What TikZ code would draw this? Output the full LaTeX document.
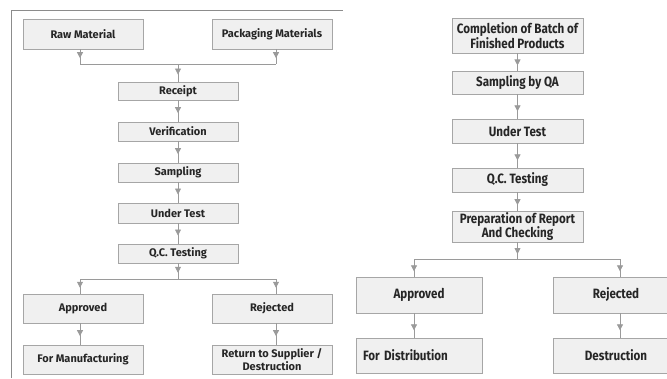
\documentclass[tikz,border=0pt]{standalone}
\usepackage{fontspec}
\setmainfont{Fira Sans}
\newfontfamily\condfont[FakeStretch=0.86]{Fira Sans}
\usetikzlibrary{arrows.meta,decorations.markings}
\definecolor{boxline}{HTML}{A6A6A6}
\definecolor{boxfill}{HTML}{F0F0F0}
\definecolor{conncol}{HTML}{9A9A9A}
\definecolor{framecol}{HTML}{8C8C8C}
\tikzset{
  lbox/.style={draw=boxline, fill=boxfill, line width=0.8pt, minimum width=120pt, inner sep=1pt, align=center, font=\fontsize{11}{12.5}\selectfont\bfseries, text=black!85},
  rbox/.style={draw=boxline, fill=boxfill, line width=0.8pt, inner sep=1pt, align=center, font=\condfont\fontsize{13.5}{13}\selectfont\bfseries, text=black!85},
  conn/.style={draw=conncol, line width=0.8pt},
  arrL/.style={postaction={decorate}, decoration={markings, mark=at position 0.6 with {\arrow[conncol]{Triangle[width=6pt,length=6pt]}}}},
  arrR/.style={postaction={decorate}, decoration={markings, mark=at position 0.7 with {\arrow[conncol]{Triangle[width=6pt,length=6pt]}}}},
}
\begin{document}
\begin{tikzpicture}[x=1pt,y=-1pt]
\useasboundingbox (0,0) rectangle (667,378);
\begin{scope}
\clip (0,0) rectangle (667,378);
% left panel frame
\draw[framecol, line width=0.8pt] (11,378) -- (11,10) -- (343,10);

% left panel nodes
\node[lbox, minimum height=30pt] (raw) at (83,34) {Raw Material};
\node[lbox, minimum height=30pt] (pack) at (272,34) {Packaging Materials};
\node[lbox, minimum height=18pt] (receipt) at (178,91) {Receipt};
\node[lbox, minimum height=19pt] (verif) at (178,131.5) {Verification};
\node[lbox, minimum height=19pt] (samp) at (178,172.5) {Sampling};
\node[lbox, minimum height=20pt] (under) at (178,213) {Under Test};
\node[lbox, minimum height=19pt] (qc) at (178,253.5) {Q.C. Testing};
\node[lbox, minimum height=29pt] (appr) at (83,308.5) {Approved};
\node[lbox, minimum height=29pt] (rej) at (272,308.5) {Rejected};
\node[lbox, minimum height=29pt] (manuf) at (83,359.5) {For Manufacturing};
\node[lbox, minimum height=29pt] (ret) at (272,359.5) {Return to Supplier /\\Destruction};

\coordinate (jl) at (80,64);
\coordinate (jr) at (276,64);
\coordinate (jc) at (178,64);
\coordinate (bl) at (80,279);
\coordinate (br) at (276,279);
\coordinate (bc) at (178,279);

\draw[conn,arrL] (raw.south -| jl) -- (jl);
\draw[conn,arrL] (pack.south -| jr) -- (jr);
\draw[conn] (jl) -- (jr);
\draw[conn,arrL] (jc) -- (receipt.north);
\draw[conn,arrL] (receipt) -- (verif);
\draw[conn,arrL] (verif) -- (samp);
\draw[conn,arrL] (samp) -- (under);
\draw[conn,arrL] (under) -- (qc);
\draw[conn,arrL] (qc.south) -- (bc);
\draw[conn] (bl) -- (br);
\draw[conn,arrL] (bl) -- (appr.north -| bl);
\draw[conn,arrL] (br) -- (rej.north -| br);
\draw[conn,arrL] (appr.south -| bl) -- (manuf.north -| bl);
\draw[conn,arrL] (rej.south -| br) -- (ret.north -| br);

% right panel nodes
\node[rbox, minimum width=131pt, minimum height=35pt] (comp) at (517.5,35.5) {Completion of Batch of\\Finished Products};
\node[rbox, minimum width=131pt, minimum height=23pt] (sqa) at (517.5,82.5) {Sampling by QA};
\node[rbox, minimum width=131pt, minimum height=24pt] (rut) at (517.5,131) {Under Test};
\node[rbox, minimum width=131pt, minimum height=24pt] (rqc) at (517.5,180) {Q.C. Testing};
\node[rbox, minimum width=131pt, minimum height=31pt] (prep) at (517.5,226.5) {Preparation of Report\\And Checking};
\node[rbox, minimum width=126pt, minimum height=36pt] (rappr) at (419,295) {Approved};
\node[rbox, minimum width=126pt, minimum height=36pt] (rrej) at (616,295) {Rejected};
\node[rbox, minimum width=126pt, minimum height=35pt, text width=120pt, align=left] (dist) at (419,355.5) {\hspace*{4pt}For Distribution};
\node[rbox, minimum width=126pt, minimum height=35pt] (destr) at (616,355.5) {Destruction};

\coordinate (rbl) at (414,259);
\coordinate (rbr) at (620,259);
\coordinate (rbc) at (517.5,259);

\draw[conn,arrR] (comp) -- (sqa);
\draw[conn,arrR] (sqa) -- (rut);
\draw[conn,arrR] (rut) -- (rqc);
\draw[conn,arrR] (rqc) -- (prep);
\draw[conn,arrR] (prep.south) -- (rbc);
\draw[conn] (rbl) -- (rbr);
\draw[conn,arrR] (rbl) -- (rappr.north -| rbl);
\draw[conn,arrR] (rbr) -- (rrej.north -| rbr);
\draw[conn,arrR] (rappr.south -| rbl) -- (dist.north -| rbl);
\draw[conn,arrR] (rrej.south -| rbr) -- (destr.north -| rbr);
\end{scope}
\end{tikzpicture}
\end{document}
